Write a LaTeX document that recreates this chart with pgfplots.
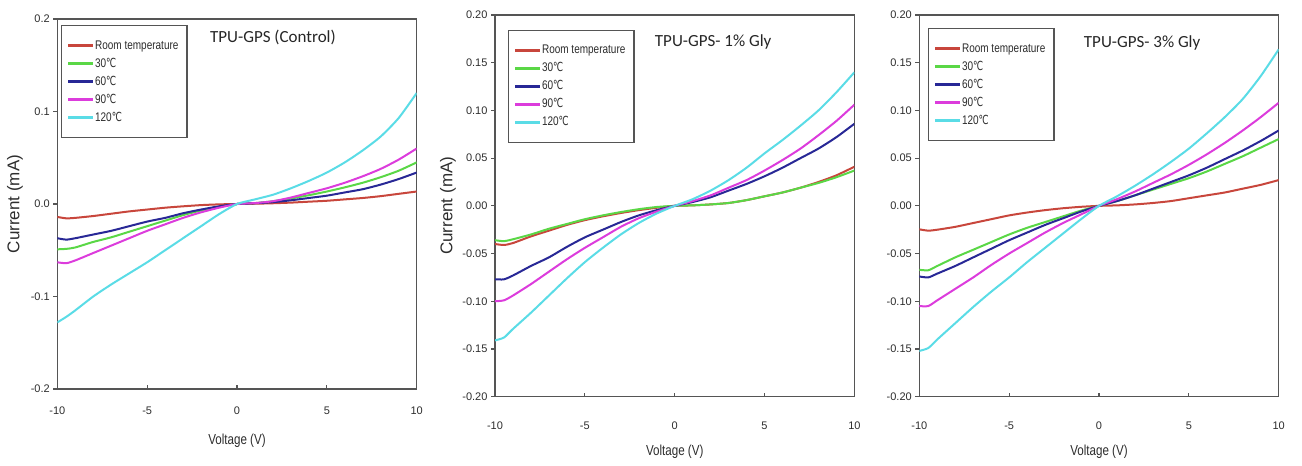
\documentclass[border=0pt]{standalone}
\usepackage{fontspec}
\usepackage{pgfplots}
\pgfplotsset{compat=1.18}
\setmainfont{Liberation Sans}
\newfontfamily\lsans{Liberation Sans}
\newfontfamily\narrow[FakeStretch=0.8]{Liberation Sans}
\newfontfamily\carl{Carlito}
\newfontfamily\djv[FakeStretch=0.72]{DejaVu Sans}
\newcommand{\degc}{{\djv ℃}}
\definecolor{cRT}{RGB}{200,70,60}
\definecolor{c30}{RGB}{90,215,70}
\definecolor{c60}{RGB}{40,40,150}
\definecolor{c90}{RGB}{220,60,220}
\definecolor{c120}{RGB}{90,220,230}
\definecolor{axgray}{RGB}{85,85,85}
\definecolor{labgray}{RGB}{45,45,45}
\pgfplotsset{
  every axis plot/.append style={no markers},
  legend image code/.code={\fill[#1] (0pt,-0.85pt) rectangle (23pt,0.85pt);},
  every axis legend/.append style={anchor=north west, draw=axgray, fill=white,
      inner xsep=6pt, inner ysep=11pt, row sep=0pt,
      font=\fontsize{12.5}{14}\selectfont\narrow, text=labgray,
      nodes={inner ysep=3.5pt, inner xsep=2.5pt, text height=9pt, text depth=2pt}},
  ivstyle/.style={
    scale only axis, width=359.4pt,
    xmin=-10, xmax=10, ymin=-0.2, ymax=0.2,
    xtick={-10,-5,0,5,10}, xticklabels={-10,-5,0,5,10},
    axis line style={draw=axgray, line width=1.3pt},
    tick style={draw=axgray, line width=1.1pt},
    major tick length=4pt, tick align=outside,
    major x tick style={yshift=4pt},
    xtick pos=lower, ytick pos=left,
    ticklabel style={font=\fontsize{11}{12}\selectfont\lsans, text=labgray},
    xlabel={Voltage (V)},
    xlabel style={font=\fontsize{14.5}{16}\selectfont\narrow, text=labgray, anchor=center},
    ylabel style={font=\fontsize{17}{19}\selectfont\lsans, text=labgray, anchor=center, rotate=0},
    legend cell align=left,
    legend style={line width=1.2pt},
  },
  cv/.style={color=#1, fill=#1, line width=2pt, smooth, tension=0.4},
}
\begin{document}
\begin{tikzpicture}
\path[use as bounding box] (0,0) rectangle (1302pt,466pt);
% ---------------- Panel 1 ----------------
\begin{axis}[ivstyle, at={(57.3pt,77pt)}, anchor=south west, height=370pt,
  ytick={-0.2,-0.1,0,0.1,0.2}, yticklabels={-0.2,-0.1,0.0,0.1,0.2},
  xticklabel style={yshift=-10pt},
  xlabel style={at={(axis description cs:0.5,-0.141)}},
  ylabel={Current (mA)}, ylabel style={at={(axis description cs:-0.1177,0.5)}},
  legend style={at={(rel axis cs:0.0103,0.984)}}]
\addplot[cv=cRT, fill=none] coordinates {(-10,-0.014)(-9.5,-0.0155)(-9,-0.015)(-8,-0.013)(-7,-0.0105)(-6,-0.008)(-5,-0.006)(-4,-0.004)(-3,-0.0025)(-2,-0.0012)(-1,-0.0004)(0,0)(1,0.0003)(2,0.0008)(3,0.0015)(4,0.0025)(5,0.0035)(6,0.005)(7,0.0065)(8,0.0085)(9,0.011)(10,0.0135)};
\addlegendentry{Room temperature}
\addplot[cv=c30, fill=none] coordinates {(-10,-0.049)(-9.5,-0.0485)(-9,-0.047)(-8,-0.041)(-7,-0.036)(-6,-0.030)(-5,-0.024)(-4,-0.018)(-3,-0.012)(-2,-0.007)(-1,-0.003)(0,0)(1,0.001)(2,0.003)(3,0.006)(4,0.0095)(5,0.0135)(6,0.018)(7,0.023)(8,0.029)(9,0.036)(10,0.045)};
\addlegendentry{30\degc}
\addplot[cv=c60, fill=none] coordinates {(-10,-0.037)(-9.5,-0.0385)(-9,-0.037)(-8,-0.033)(-7,-0.029)(-6,-0.024)(-5,-0.019)(-4,-0.015)(-3,-0.010)(-2,-0.006)(-1,-0.0025)(0,0)(1,0.0008)(2,0.002)(3,0.004)(4,0.0065)(5,0.009)(6,0.0125)(7,0.016)(8,0.021)(9,0.027)(10,0.034)};
\addlegendentry{60\degc}
\addplot[cv=c90, fill=none] coordinates {(-10,-0.063)(-9.5,-0.064)(-9,-0.061)(-8,-0.053)(-7,-0.045)(-6,-0.037)(-5,-0.029)(-4,-0.022)(-3,-0.015)(-2,-0.009)(-1,-0.004)(0,0)(1,0.001)(2,0.003)(3,0.007)(4,0.012)(5,0.017)(6,0.023)(7,0.030)(8,0.038)(9,0.048)(10,0.060)};
\addlegendentry{90\degc}
\addplot[cv=c120, fill=none] coordinates {(-10,-0.128)(-9.5,-0.122)(-9,-0.115)(-8,-0.100)(-7,-0.087)(-6,-0.075)(-5,-0.063)(-4,-0.050)(-3,-0.037)(-2,-0.024)(-1,-0.011)(0,0)(1,0.005)(2,0.010)(3,0.017)(4,0.025)(5,0.034)(6,0.045)(7,0.058)(8,0.073)(9,0.093)(10,0.120)};
\addlegendentry{120\degc}
\node[font=\fontsize{17}{20}\selectfont\carl, text=black!85] at (rel axis cs:0.600,0.951) {TPU-GPS (Control)};
\end{axis}
% ---------------- Panel 2 ----------------
\begin{axis}[ivstyle, at={(495pt,69.3pt)}, anchor=south west, height=381.7pt,
  ytick={-0.2,-0.15,-0.1,-0.05,0,0.05,0.1,0.15,0.2},
  yticklabels={-0.20,-0.15,-0.10,-0.05,0.00,0.05,0.10,0.15,0.20},
  xticklabel style={yshift=-18pt},
  xlabel style={at={(axis description cs:0.5,-0.145)}},
  ylabel={Current (mA)}, ylabel style={at={(axis description cs:-0.1308,0.5)}},
  legend style={at={(rel axis cs:0.036,0.961)}}]
\addplot[cv=cRT, fill=none] coordinates {(-10,-0.040)(-9.5,-0.041)(-9,-0.039)(-8,-0.032)(-7,-0.026)(-6,-0.020)(-5,-0.015)(-4,-0.011)(-3,-0.0075)(-2,-0.0045)(-1,-0.002)(0,0)(1,0.0005)(2,0.0015)(3,0.003)(4,0.006)(5,0.010)(6,0.014)(7,0.019)(8,0.025)(9,0.032)(10,0.041)};
\addlegendentry{Room temperature}
\addplot[cv=c30, fill=none] coordinates {(-10,-0.036)(-9.5,-0.037)(-9,-0.035)(-8,-0.030)(-7,-0.024)(-6,-0.019)(-5,-0.014)(-4,-0.010)(-3,-0.0065)(-2,-0.0035)(-1,-0.0012)(0,0)(1,0.0005)(2,0.0015)(3,0.003)(4,0.006)(5,0.010)(6,0.014)(7,0.019)(8,0.024)(9,0.030)(10,0.037)};
\addlegendentry{30\degc}
\addplot[cv=c60, fill=none] coordinates {(-10,-0.077)(-9.5,-0.077)(-9,-0.073)(-8,-0.063)(-7,-0.054)(-6,-0.043)(-5,-0.033)(-4,-0.025)(-3,-0.017)(-2,-0.010)(-1,-0.0045)(0,0)(1,0.004)(2,0.009)(3,0.016)(4,0.023)(5,0.031)(6,0.040)(7,0.050)(8,0.060)(9,0.072)(10,0.086)};
\addlegendentry{60\degc}
\addplot[cv=c90, fill=none] coordinates {(-10,-0.100)(-9.5,-0.099)(-9,-0.094)(-8,-0.082)(-7,-0.069)(-6,-0.056)(-5,-0.044)(-4,-0.033)(-3,-0.022)(-2,-0.013)(-1,-0.006)(0,0)(1,0.005)(2,0.011)(3,0.019)(4,0.027)(5,0.037)(6,0.048)(7,0.060)(8,0.074)(9,0.089)(10,0.106)};
\addlegendentry{90\degc}
\addplot[cv=c120, fill=none] coordinates {(-10,-0.141)(-9.5,-0.138)(-9,-0.129)(-8,-0.112)(-7,-0.094)(-6,-0.076)(-5,-0.059)(-4,-0.044)(-3,-0.030)(-2,-0.018)(-1,-0.008)(0,0)(1,0.007)(2,0.016)(3,0.027)(4,0.040)(5,0.055)(6,0.069)(7,0.084)(8,0.100)(9,0.119)(10,0.140)};
\addlegendentry{120\degc}
\node[font=\fontsize{17}{20}\selectfont\carl, text=black!85] at (rel axis cs:0.607,0.929) {TPU-GPS- 1\% Gly};
\end{axis}
% ---------------- Panel 3 ----------------
\begin{axis}[ivstyle, at={(919.3pt,69.3pt)}, anchor=south west, height=381.7pt,
  ytick={-0.2,-0.15,-0.1,-0.05,0,0.05,0.1,0.15,0.2},
  yticklabels={-0.20,-0.15,-0.10,-0.05,0.00,0.05,0.10,0.15,0.20},
  xticklabel style={yshift=-18pt},
  xlabel style={at={(axis description cs:0.5,-0.145)}},
  legend style={at={(rel axis cs:0.024,0.966)}}]
\addplot[cv=cRT, fill=none] coordinates {(-10,-0.0246)(-9.5,-0.026)(-9,-0.025)(-8,-0.022)(-7,-0.018)(-6,-0.014)(-5,-0.010)(-4,-0.007)(-3,-0.0045)(-2,-0.0025)(-1,-0.001)(0,0)(1,0.0005)(2,0.0015)(3,0.003)(4,0.005)(5,0.008)(6,0.011)(7,0.014)(8,0.018)(9,0.022)(10,0.027)};
\addlegendentry{Room temperature}
\addplot[cv=c30, fill=none] coordinates {(-10,-0.067)(-9.5,-0.0675)(-9,-0.063)(-8,-0.054)(-7,-0.046)(-6,-0.038)(-5,-0.030)(-4,-0.023)(-3,-0.017)(-2,-0.011)(-1,-0.005)(0,0)(1,0.005)(2,0.011)(3,0.017)(4,0.023)(5,0.029)(6,0.036)(7,0.044)(8,0.052)(9,0.061)(10,0.070)};
\addlegendentry{30\degc}
\addplot[cv=c60, fill=none] coordinates {(-10,-0.074)(-9.5,-0.075)(-9,-0.071)(-8,-0.063)(-7,-0.054)(-6,-0.045)(-5,-0.036)(-4,-0.028)(-3,-0.020)(-2,-0.013)(-1,-0.006)(0,0)(1,0.005)(2,0.011)(3,0.018)(4,0.025)(5,0.032)(6,0.040)(7,0.049)(8,0.058)(9,0.068)(10,0.079)};
\addlegendentry{60\degc}
\addplot[cv=c90, fill=none] coordinates {(-10,-0.105)(-9.5,-0.105)(-9,-0.099)(-8,-0.087)(-7,-0.075)(-6,-0.062)(-5,-0.050)(-4,-0.039)(-3,-0.028)(-2,-0.018)(-1,-0.009)(0,0)(1,0.007)(2,0.015)(3,0.024)(4,0.033)(5,0.043)(6,0.054)(7,0.066)(8,0.079)(9,0.093)(10,0.108)};
\addlegendentry{90\degc}
\addplot[cv=c120, fill=none] coordinates {(-10,-0.152)(-9.5,-0.149)(-9,-0.140)(-8,-0.123)(-7,-0.106)(-6,-0.090)(-5,-0.075)(-4,-0.059)(-3,-0.044)(-2,-0.029)(-1,-0.014)(0,0)(1,0.010)(2,0.021)(3,0.033)(4,0.046)(5,0.060)(6,0.076)(7,0.093)(8,0.112)(9,0.136)(10,0.164)};
\addlegendentry{120\degc}
\node[font=\fontsize{17}{20}\selectfont\carl, text=black!85] at (rel axis cs:0.620,0.927) {TPU-GPS- 3\% Gly};
\end{axis}
\end{tikzpicture}
\end{document}
